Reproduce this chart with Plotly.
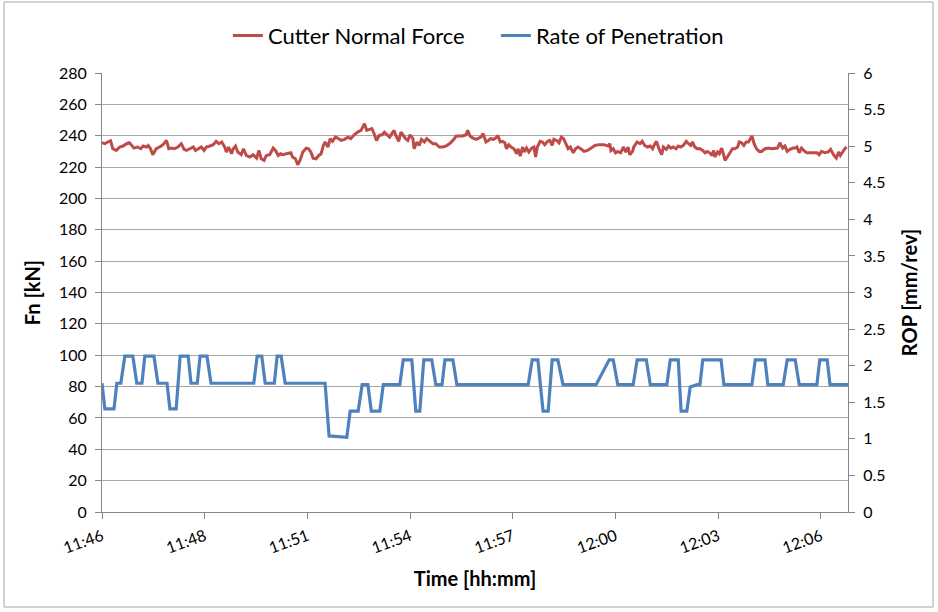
import plotly.graph_objects as go

# Time axis: seconds elapsed since the first sample; labels every 180 s
tick_seconds = [0, 180, 360, 540, 720, 900, 1080, 1260]
tick_labels = ["11:46", "11:48", "11:51", "11:54", "11:57", "12:00", "12:03", "12:06"]
x_end = 1307.5

# Cutter normal force [kN]
fn_time = [
    0, 5, 10, 15, 19, 25, 31, 37, 43, 48, 51, 56, 62, 68, 72, 78, 81, 85, 89, 95,
    101, 107, 113, 117, 122, 127, 133, 139, 144, 148, 154, 160, 164, 168, 174, 179, 183, 189, 195, 200,
    205, 210, 215, 218, 222, 227, 230, 234, 238, 244, 248, 253, 259, 265, 271, 275, 279, 284, 288, 294,
    300, 304, 309, 313, 317, 323, 331, 334, 339, 343, 347, 352, 358, 362, 366, 370, 375, 380, 384, 388,
    391, 396, 400, 404, 409, 413, 419, 425, 431, 436, 442, 448, 454, 460, 464, 469, 473, 477, 481, 486,
    491, 495, 499, 504, 508, 512, 515, 520, 524, 528, 532, 536, 540, 545, 547, 552, 556, 560, 565, 569,
    574, 580, 585, 591, 597, 603, 609, 615, 621, 626, 632, 638, 641, 645, 650, 656, 664, 668, 673, 677,
    681, 686, 690, 694, 698, 702, 706, 709, 713, 717, 722, 727, 729, 733, 737, 740, 744, 748, 753, 757,
    760, 763, 768, 772, 776, 781, 785, 789, 792, 797, 801, 805, 809, 813, 817, 821, 826, 830, 834, 839,
    845, 851, 857, 864, 871, 880, 887, 890, 892, 896, 900, 904, 909, 914, 918, 922, 925, 930, 932, 938,
    943, 947, 951, 956, 961, 965, 969, 972, 976, 981, 984, 989, 993, 997, 1001, 1006, 1010, 1014, 1019, 1024,
    1028, 1032, 1035, 1039, 1043, 1048, 1053, 1057, 1061, 1065, 1069, 1072, 1074, 1079, 1082, 1086, 1089, 1092, 1096, 1101,
    1105, 1109, 1114, 1117, 1121, 1125, 1129, 1133, 1136, 1139, 1143, 1147, 1152, 1156, 1162, 1168, 1174, 1180, 1184, 1188,
    1193, 1197, 1201, 1206, 1211, 1215, 1218, 1222, 1226, 1230, 1235, 1241, 1247, 1253, 1257, 1261, 1267, 1273, 1277, 1282,
    1287, 1291, 1294, 1298, 1302, 1305,
]
fn_kn = [
    235.5, 234.9, 236.0, 236.8, 231.7, 230.6, 232.8, 233.4, 234.9, 235.5, 234.3, 232.1, 232.8, 231.7, 233.4, 232.8, 233.8, 231.7, 227.9, 231.7,
    232.8, 234.3, 237.0, 231.7, 232.1, 231.7, 232.8, 234.9, 231.3, 230.6, 231.7, 232.8, 230.6, 231.7, 232.8, 230.6, 232.8, 233.4, 234.3, 236.4,
    234.9, 236.0, 232.8, 229.6, 232.8, 228.5, 231.7, 233.4, 229.6, 227.9, 231.7, 227.4, 226.4, 227.9, 225.7, 230.6, 225.3, 224.3, 227.4, 227.9,
    232.1, 230.6, 227.4, 228.5, 227.9, 228.5, 229.1, 226.4, 225.3, 221.5, 224.3, 229.6, 232.1, 231.7, 229.6, 225.7, 225.3, 227.4, 228.5, 233.8,
    236.0, 232.8, 238.1, 236.4, 239.1, 238.5, 237.0, 237.7, 239.1, 238.1, 240.6, 242.3, 243.4, 247.7, 243.4, 244.0, 244.5, 241.3, 237.0, 240.2,
    240.6, 242.3, 240.6, 239.1, 241.3, 243.4, 240.2, 236.4, 242.3, 240.2, 238.1, 237.0, 240.6, 238.1, 231.7, 236.0, 233.8, 237.7, 236.0, 238.1,
    236.4, 234.9, 234.9, 232.8, 232.8, 233.4, 234.9, 237.0, 239.8, 239.8, 239.8, 240.6, 243.4, 239.8, 238.5, 237.7, 239.1, 241.3, 236.0, 237.0,
    238.1, 237.7, 238.5, 240.2, 236.0, 236.4, 235.5, 231.7, 234.3, 232.8, 231.7, 228.5, 231.7, 227.0, 232.8, 229.6, 232.1, 229.6, 232.1, 232.8,
    226.4, 232.8, 236.4, 236.0, 234.3, 236.4, 237.0, 233.8, 237.7, 237.0, 235.5, 239.1, 238.1, 234.9, 231.7, 232.8, 229.1, 231.7, 232.8, 231.7,
    230.0, 230.6, 232.1, 233.8, 234.3, 234.3, 233.4, 234.9, 230.6, 231.7, 229.1, 230.0, 229.1, 232.8, 229.6, 232.8, 227.9, 230.0, 232.8, 236.0,
    234.9, 236.4, 233.8, 232.8, 233.4, 231.7, 234.9, 236.4, 231.7, 227.9, 232.8, 231.3, 233.4, 232.1, 232.8, 231.7, 233.4, 232.8, 233.8, 236.4,
    234.9, 233.8, 236.0, 232.8, 231.7, 231.7, 230.6, 229.1, 230.0, 229.1, 227.4, 230.6, 226.4, 229.6, 228.5, 232.1, 228.5, 224.3, 226.4, 229.1,
    231.7, 231.7, 232.8, 236.0, 235.5, 233.8, 236.0, 236.0, 237.7, 239.8, 234.9, 231.7, 230.0, 230.0, 231.7, 232.1, 231.7, 232.1, 232.1, 235.5,
    232.1, 233.4, 230.0, 231.3, 232.1, 232.1, 232.8, 229.1, 232.1, 230.6, 229.1, 229.1, 229.1, 229.1, 227.9, 230.0, 229.1, 229.6, 231.3, 227.9,
    225.7, 229.6, 227.4, 230.0, 231.7, 232.8,
]

# Rate of penetration [mm/rev], corner points of the stepped record
rop_time = [
    0, 5, 21, 26, 33, 40, 54, 61, 70, 75, 91, 98, 114, 119, 130, 137, 151, 156, 167, 172,
    184, 191, 266, 272, 280, 286, 302, 307, 314, 321, 391, 398, 429, 435, 449, 456, 466, 472, 487, 493,
    522, 528, 543, 550, 557, 564, 578, 585, 596, 601, 615, 622, 747, 754, 764, 773, 782, 789, 799, 808,
    866, 889, 896, 904, 931, 938, 954, 961, 990, 996, 1010, 1015, 1025, 1031, 1043, 1048, 1053, 1085, 1090, 1139,
    1145, 1162, 1167, 1194, 1201, 1215, 1222, 1253, 1258, 1271, 1276, 1307.5,
]
rop_mm = [
    1.76, 1.41, 1.41, 1.76, 1.76, 2.13, 2.13, 1.76, 1.76, 2.13, 2.13, 1.76, 1.76, 1.41, 1.41, 2.13, 2.13, 1.76, 1.76, 2.13,
    2.13, 1.76, 1.76, 2.13, 2.13, 1.76, 1.76, 2.13, 2.13, 1.76, 1.76, 1.04, 1.02, 1.38, 1.38, 1.74, 1.74, 1.38, 1.38, 1.74,
    1.74, 2.08, 2.08, 1.38, 1.38, 2.08, 2.08, 1.74, 1.74, 2.08, 2.08, 1.74, 1.74, 2.08, 2.08, 1.38, 1.38, 2.08, 2.08, 1.74,
    1.74, 2.08, 2.08, 1.74, 1.74, 2.08, 2.08, 1.74, 1.74, 2.08, 2.08, 1.38, 1.38, 1.71, 1.74, 1.74, 2.08, 2.08, 1.74, 1.74,
    2.08, 2.08, 1.74, 1.74, 2.08, 2.08, 1.74, 1.74, 2.08, 2.08, 1.74, 1.74,
]

left_ticks = list(range(0, 281, 20))
right_ticks = [i * 0.5 for i in range(13)]
right_labels = ["0", "0.5", "1", "1.5", "2", "2.5", "3", "3.5", "4", "4.5", "5", "5.5", "6"]

FONT = "Lato"
AXIS_GREY = "#868686"
GRID_GREY = "#a6a6a6"

fig = go.Figure()
fig.add_trace(go.Scatter(
    x=fn_time, y=fn_kn, name="Cutter Normal Force", mode="lines",
    line=dict(color="#be4b48", width=3), yaxis="y",
))
fig.add_trace(go.Scatter(
    x=rop_time, y=rop_mm, name="Rate of Penetration", mode="lines",
    line=dict(color="#4f81bd", width=3.2), yaxis="y2",
))

fig.update_layout(
    width=938, height=612,
    margin=dict(l=102, r=90, t=73, b=100, autoexpand=False),
    paper_bgcolor="white", plot_bgcolor="white",
    font=dict(family=FONT, color="#000000", size=16),
    showlegend=True,
    legend=dict(
        orientation="h", x=0.528, xanchor="center", y=1.085, yanchor="middle",
        font=dict(family=FONT, size=22, color="#000000"),
        itemwidth=30, traceorder="normal", bgcolor="rgba(0,0,0,0)",
        entrywidth=223, entrywidthmode="pixels",
    ),
    xaxis=dict(
        range=[0, x_end], tickmode="array", tickvals=tick_seconds, ticktext=tick_labels,
        tickangle=-20, ticks="outside", ticklen=6, tickcolor=AXIS_GREY,
        showline=True, linecolor=AXIS_GREY, linewidth=1, showgrid=False, zeroline=False,
        tickfont=dict(family=FONT, size=16), ticklabelstandoff=2,
        title=dict(text="<b>Time [hh:mm]</b>", font=dict(family=FONT, size=20), standoff=16),
    ),
    yaxis=dict(
        range=[0, 280], tickmode="array", tickvals=left_ticks,
        ticks="outside", ticklen=6, tickcolor=AXIS_GREY,
        showline=True, linecolor=AXIS_GREY, linewidth=1,
        showgrid=True, gridcolor=GRID_GREY, gridwidth=1, zeroline=False,
        tickfont=dict(family=FONT, size=16), ticklabelstandoff=5,
        title=dict(text="<b>Fn [kN]</b>", font=dict(family=FONT, size=20), standoff=12),
    ),
    yaxis2=dict(
        range=[0, 6], overlaying="y", side="right", tickmode="array",
        tickvals=right_ticks, ticktext=right_labels,
        ticks="outside", ticklen=6, tickcolor=AXIS_GREY,
        showline=True, linecolor=AXIS_GREY, linewidth=1, showgrid=False, zeroline=False,
        tickfont=dict(family=FONT, size=16), ticklabelstandoff=5,
        title=dict(text="<b>ROP [mm/rev]</b>", font=dict(family=FONT, size=20), standoff=18),
    ),
)

# Outer chart frame
fig.add_shape(
    type="rect", xref="paper", yref="paper",
    x0=(4 - 102) / 746, x1=(933 - 102) / 746,
    y0=-(607 - 512) / 439, y1=(512 - 2) / 439,
    line=dict(color="#a6a6a6", width=1), layer="below",
)

fig.write_html("out.html")
